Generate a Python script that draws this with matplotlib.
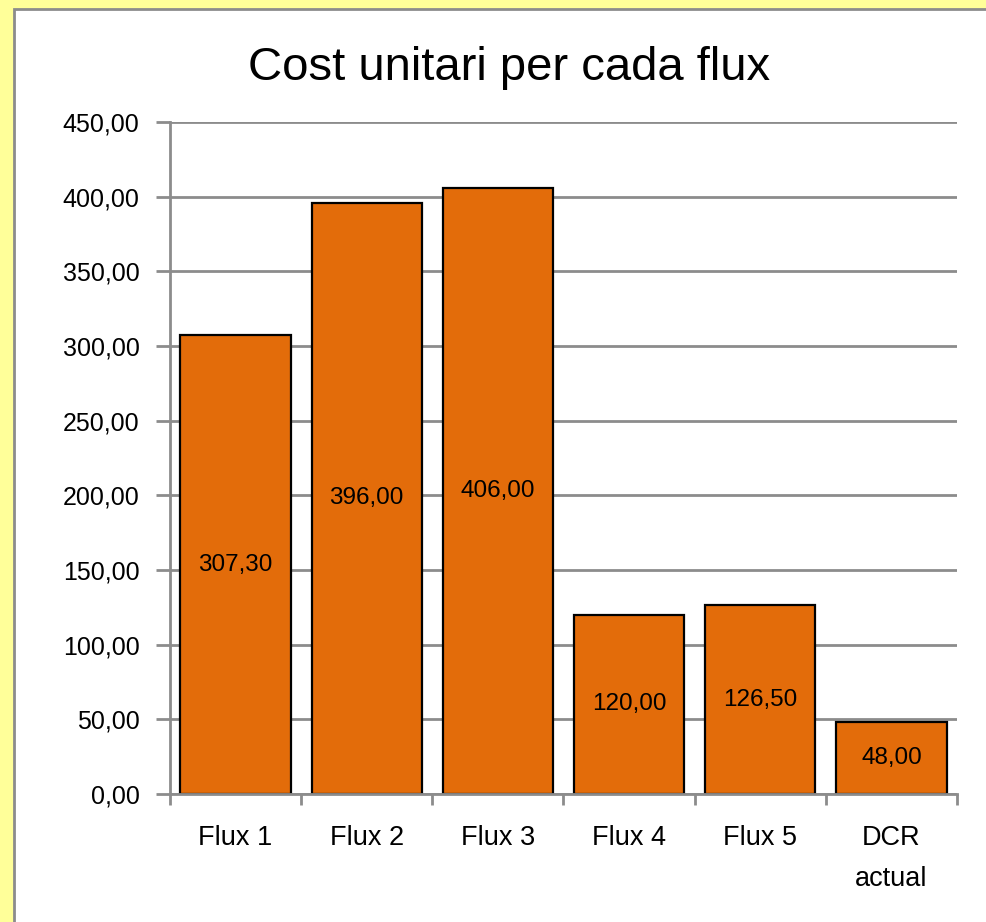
import matplotlib
matplotlib.use('Agg')
import matplotlib.pyplot as plt
from matplotlib import font_manager
from matplotlib.patches import Rectangle
from matplotlib.ticker import FuncFormatter

names = {f.name for f in font_manager.fontManager.ttflist}
main_font = 'Liberation Sans Narrow' if 'Liberation Sans Narrow' in names else 'Liberation Sans'
plt.rcParams['font.family'] = [main_font, 'DejaVu Sans']

# data
categories = ['Flux 1', 'Flux 2', 'Flux 3', 'Flux 4', 'Flux 5', 'DCR\nactual']
costs = [307.30, 396.00, 406.00, 120.00, 126.50, 48.00]

W, H = 987, 922
fig = plt.figure(figsize=(W / 100, H / 100), dpi=100)
fig.patch.set_facecolor('#FFFF99')

# white chart area with grey edge
x0, y0 = 14, 9
fig.patches.append(Rectangle((x0 / W, -0.01), 1.02, 1.01 - y0 / H, transform=fig.transFigure,
                             facecolor='white', edgecolor='#8C8C8C', linewidth=2.0, zorder=0))

ax = fig.add_axes([170 / W, 128 / H, 787 / W, 672 / H])
ax.set_zorder(2)
ax.patch.set_alpha(0)

x = list(range(len(categories)))
bars = ax.bar(x, costs, width=0.84, color='#E36C0A', edgecolor='black', linewidth=1.6, zorder=3)

fmt = lambda v: f'{v:.2f}'.replace('.', ',')
for b, v in zip(bars, costs):
    ax.text(b.get_x() + b.get_width() / 2, v / 2, fmt(v), ha='center', va='center',
            fontsize=17.5, color='black', zorder=4)

ax.set_xlim(-0.5, len(categories) - 0.5)
ax.set_ylim(0, 450)
ax.set_yticks(range(0, 451, 50))
ax.yaxis.set_major_formatter(FuncFormatter(lambda v, p: fmt(v)))
ax.grid(axis='y', color='#8C8C8C', linewidth=2, zorder=1)

ax.set_xticks(x)
ax.set_xticklabels(categories, fontsize=19.5, linespacing=1.75, va='top')
ax.set_xticks([i - 0.5 for i in range(len(categories) + 1)], minor=True)
ax.tick_params(axis='x', which='major', length=0, pad=22)
ax.tick_params(axis='x', which='minor', length=8, width=2, color='#8C8C8C', direction='out')
ax.tick_params(axis='y', length=10, width=2, color='#8C8C8C', direction='out', labelsize=18, pad=12)

for s in ['top', 'right']:
    ax.spines[s].set_visible(False)
for s in ['left', 'bottom']:
    ax.spines[s].set_color('#8C8C8C')
    ax.spines[s].set_linewidth(2)
    ax.spines[s].set_zorder(5)

fig.text(509 / W, 1 - 68 / H, 'Cost unitari per cada flux', ha='center', va='center',
         fontsize=34, zorder=3)

fig.savefig('out.png', dpi=100, facecolor=fig.get_facecolor())
